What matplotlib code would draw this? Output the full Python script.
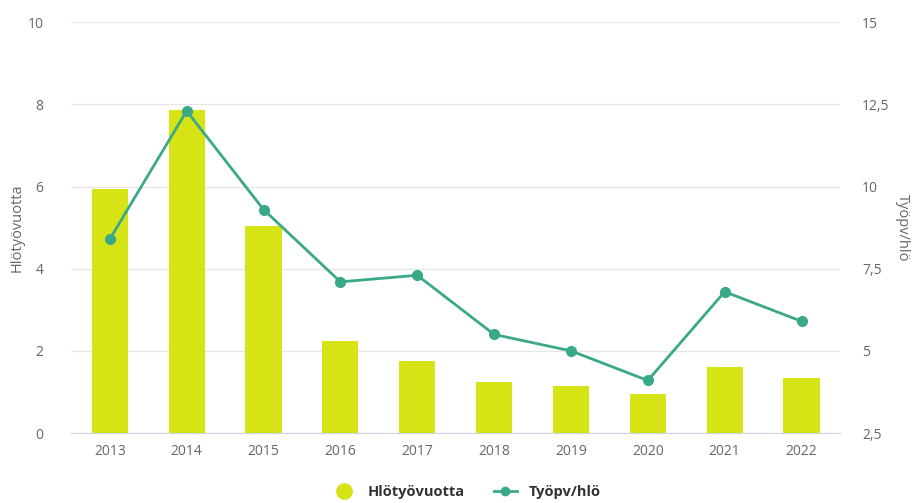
import matplotlib.pyplot as plt
import numpy as np
from matplotlib.lines import Line2D

years = ['2013', '2014', '2015', '2016', '2017', '2018', '2019', '2020', '2021', '2022']
hlotyovuotta = [5.95, 7.85, 5.05, 2.25, 1.75, 1.25, 1.15, 0.95, 1.6, 1.35]
tyopv_hlo = [8.4, 12.3, 9.3, 7.1, 7.3, 5.5, 5.0, 4.1, 6.8, 5.9]
left_ticks = [0, 2, 4, 6, 8, 10]
right_ticks = [2.5, 5, 7.5, 10, 12.5, 15]

BAR_COLOR = '#d6e314'
LINE_COLOR = '#3aa987'
TEXT_COLOR = '#666666'

plt.rcParams['font.family'] = ['Open Sans', 'DejaVu Sans']

fig = plt.figure(figsize=(9.15, 5.03), dpi=100)
ax = fig.add_axes([0.078, 0.139, 0.840, 0.817])
ax2 = ax.twinx()

x = np.arange(len(years))
ax.bar(x, hlotyovuotta, width=0.47, color=BAR_COLOR, zorder=2)
ax2.plot(x, tyopv_hlo, color=LINE_COLOR, linewidth=2, marker='o',
         markersize=7, zorder=3)

ax.set_xlim(-0.5, len(years) - 0.5)
ax.set_ylim(0, 10)
ax2.set_ylim(2.5, 15)
ax.set_yticks(left_ticks)
ax.set_yticklabels([str(t) for t in left_ticks])
ax2.set_yticks(right_ticks)
ax2.set_yticklabels([f'{t:g}'.replace('.', ',') for t in right_ticks])
ax.set_xticks(x)
ax.set_xticklabels(years)

ax.grid(axis='y', color='#e6e6e6', linewidth=1, zorder=0)
ax.set_axisbelow(True)

for a in (ax, ax2):
    for s in a.spines.values():
        s.set_visible(False)
    a.tick_params(length=0, colors=TEXT_COLOR, labelsize=10)
ax.spines['bottom'].set_visible(True)
ax.spines['bottom'].set_color('#ccd6eb')
ax.tick_params(axis='x', pad=8)
ax.tick_params(axis='y', pad=20)
ax2.tick_params(axis='y', pad=16)

ax.set_ylabel('Hlötyövuotta', color=TEXT_COLOR, fontsize=10.5, va='center')
ax.yaxis.set_label_coords(-0.070, 0.5)
ax2.set_ylabel('Työpv/hlö', color=TEXT_COLOR, fontsize=10.5, rotation=270,
               va='center')
ax2.yaxis.set_label_coords(1.081, 0.5)

handles = [
    Line2D([], [], marker='o', color='none', markerfacecolor=BAR_COLOR,
           markeredgecolor=BAR_COLOR, markersize=11),
    Line2D([], [], marker='o', color=LINE_COLOR, linewidth=2, markersize=6),
]
fig.legend(handles, ['Hlötyövuotta', 'Työpv/hlö'], loc='center',
           bbox_to_anchor=(0.51, 0.022), ncol=2, frameon=False,
           prop={'weight': 'bold', 'size': 10.5}, labelcolor='#333333',
           handlelength=1.6, columnspacing=2.0)

fig.savefig('out.png', dpi=100)
